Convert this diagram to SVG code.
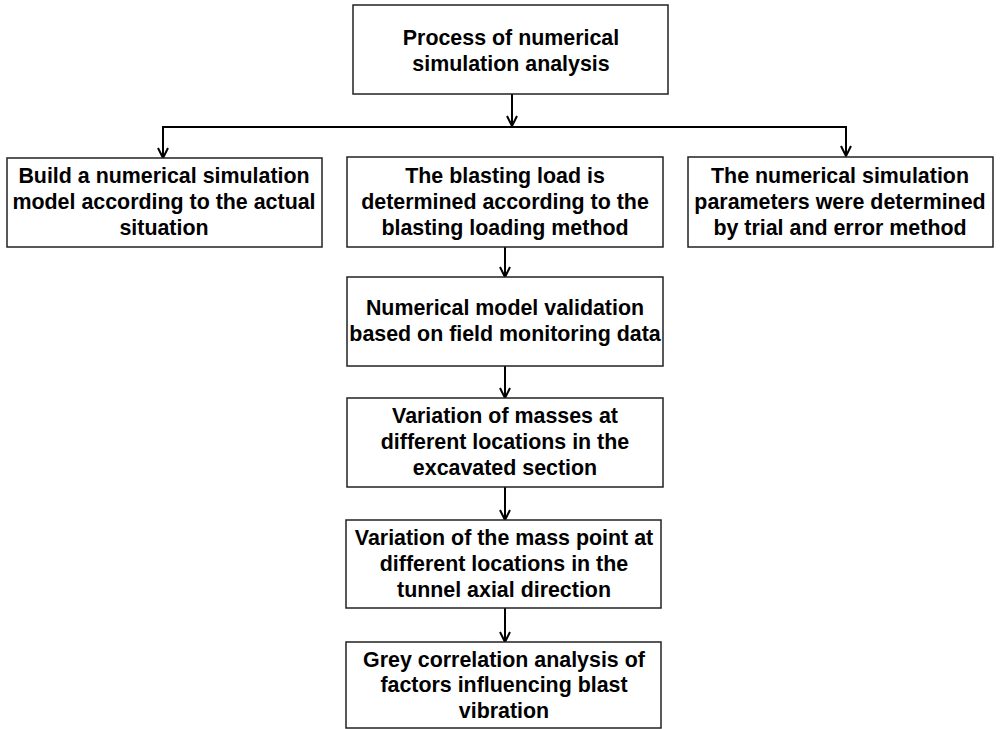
<svg xmlns="http://www.w3.org/2000/svg" width="1001" height="729" viewBox="0 0 1001 729">
<defs>
<style>
.box{fill:#fff;stroke:#222;stroke-width:1.5}
.t{font-family:"Liberation Sans",Arial,sans-serif;font-weight:bold;font-size:21.4px;fill:#000;text-anchor:middle}
.c{fill:none;stroke:#000;stroke-width:2}
</style>
<marker id="ah" viewBox="0 0 12 12" refX="11" refY="6" markerWidth="12" markerHeight="12" markerUnits="userSpaceOnUse" orient="auto">
<path d="M1,1 L11,6 L1,11" fill="none" stroke="#000" stroke-width="2"/>
</marker>
</defs>
<rect width="1001" height="729" fill="#fff"/>
<g id="connectors">
<line class="c" x1="512" y1="94" x2="512" y2="126" marker-end="url(#ah)"/>
<polyline class="c" points="163,127 846,127 846,156" marker-end="url(#ah)"/>
<line class="c" x1="163" y1="126" x2="163" y2="158" marker-end="url(#ah)"/>
<line class="c" x1="505" y1="247" x2="505" y2="277" marker-end="url(#ah)"/>
<line class="c" x1="505" y1="366" x2="505" y2="398" marker-end="url(#ah)"/>
<line class="c" x1="505" y1="487" x2="505" y2="520" marker-end="url(#ah)"/>
<line class="c" x1="505" y1="608" x2="505" y2="642" marker-end="url(#ah)"/>
</g>
<g id="n0"><rect class="box" x="353" y="5" width="315" height="89"/>
<text class="t" x="511" y="45">Process of numerical</text><text class="t" x="511" y="71">simulation analysis</text></g>
<g id="n1"><rect class="box" x="7" y="158" width="315" height="89"/>
<text class="t" x="164" y="183">Build a numerical simulation</text><text class="t" x="164" y="209">model according to the actual</text><text class="t" x="164" y="235">situation</text></g>
<g id="n2"><rect class="box" x="347" y="157" width="316" height="90"/>
<text class="t" x="505" y="183">The blasting load is</text><text class="t" x="505" y="209">determined according to the</text><text class="t" x="505" y="235">blasting loading method</text></g>
<g id="n3"><rect class="box" x="688" y="157" width="305" height="90"/>
<text class="t" x="840" y="183">The numerical simulation</text><text class="t" x="840" y="209">parameters were determined</text><text class="t" x="840" y="235">by trial and error method</text></g>
<g id="n4"><rect class="box" x="347" y="277" width="316" height="89"/>
<text class="t" x="505" y="315">Numerical model validation</text><text class="t" x="505" y="341">based on field monitoring data</text></g>
<g id="n5"><rect class="box" x="347" y="398" width="316" height="89"/>
<text class="t" x="505" y="423">Variation of masses at</text><text class="t" x="505" y="449">different locations in the</text><text class="t" x="505" y="475">excavated section</text></g>
<g id="n6"><rect class="box" x="346" y="520" width="315" height="88"/>
<text class="t" x="504" y="545">Variation of the mass point at</text><text class="t" x="504" y="571">different locations in the</text><text class="t" x="504" y="597">tunnel axial direction</text></g>
<g id="n7"><rect class="box" x="346" y="642" width="315" height="86"/>
<text class="t" x="504" y="667">Grey correlation analysis of</text><text class="t" x="504" y="692">factors influencing blast</text><text class="t" x="504" y="718">vibration</text></g>
</svg>
